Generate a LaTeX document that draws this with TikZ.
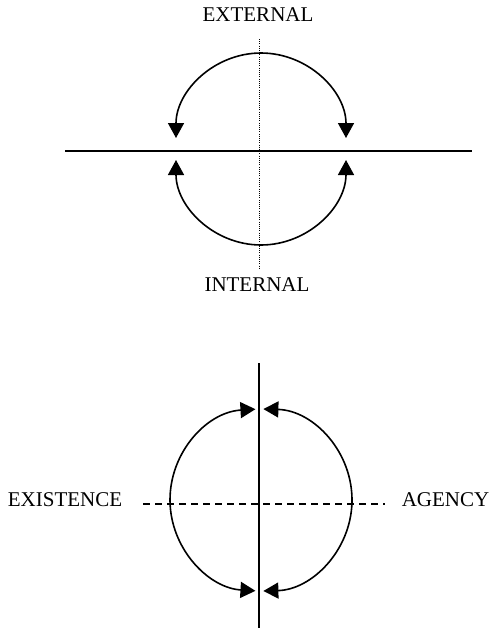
\documentclass[tikz,border=0pt]{standalone}
\usepackage{fontspec}
\setmainfont{Liberation Serif}
\usetikzlibrary{arrows.meta}

\begin{document}
\begin{tikzpicture}[x=1pt, y=-1pt, font=\fontsize{21}{25}\selectfont, >={Triangle[width=16pt,length=15pt]}]
\tikzset{bow/.style={<->, line width=1.6pt},axis/.style={line width=1.5pt},dots/.style={line width=0.9pt, dash pattern=on 1pt off 1.2pt},dashline/.style={line width=1.2pt, dash pattern=on 7pt off 5pt},lbl/.style={inner sep=0pt}}
\useasboundingbox (0,0) rectangle (491,630);
\node[lbl] (ext) at (258,15) {EXTERNAL};
\node[lbl] (int) at (257,285) {INTERNAL};
\coordinate (hl) at (65,151); \coordinate (hr) at (472,151);
\coordinate (vt) at (259,39); \coordinate (vb) at (259,268);
\draw[axis] (hl) -- (hr); \draw[dots] (vt) -- (vb);
\coordinate (upL) at (176,138); \coordinate (loL) at (176,160);
\draw[bow] (upL) arc[start angle=180, end angle=0, radius=85pt];
\draw[bow] (loL) arc[start angle=180, end angle=360, radius=85pt];
\node[lbl] (exi) at (65,500) {EXISTENCE};
\node[lbl] (age) at (445.5,500) {AGENCY};
\coordinate (st) at (259,363); \coordinate (sb) at (259,628);
\coordinate (dl) at (143,504); \coordinate (dr) at (385,504);
\draw[axis] (st) -- (sb); \draw[dashline] (dl) -- (dr);
\coordinate (topL) at ({261+91*cos(93.5)},{500-91*sin(93.5)}); \coordinate (topR) at ({261+91*cos(88.5)},{500-91*sin(88.5)});
\draw[bow] (topL) arc[start angle=93.5, end angle=266.5, radius=91pt];
\draw[bow] (topR) arc[start angle=88.5, end angle=-88.5, radius=91pt];
\end{tikzpicture}
\end{document}
